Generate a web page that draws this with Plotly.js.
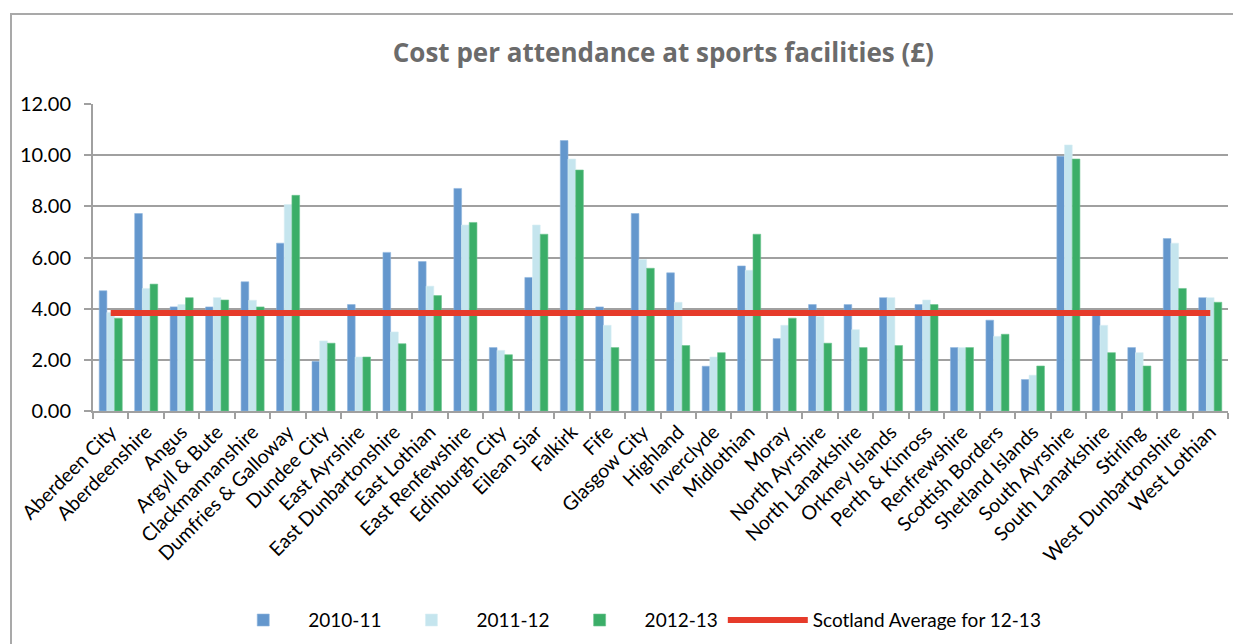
<!DOCTYPE html>
<html>
<head>
<meta charset="utf-8">
<script src="https://cdn.plot.ly/plotly-3.0.1.min.js"></script>
<style>
  html, body { margin: 0; padding: 0; background: #fff; }
  #chart { position: absolute; left: 0; top: 0; width: 1233px; height: 644px; }
  #frame { position: absolute; left: 10px; top: 13px; width: 1240px; height: 650px;
           border: 2px solid #a9a9a9; pointer-events: none; box-sizing: border-box; }
</style>
</head>
<body>
<div id="chart"></div>
<div id="frame"></div>
<script>
const categories = [
  "Aberdeen City", "Aberdeenshire", "Angus", "Argyll & Bute", "Clackmannanshire",
  "Dumfries & Galloway", "Dundee City", "East Ayrshire", "East Dunbartonshire",
  "East Lothian", "East Renfewshire", "Edinburgh City", "Eilean Siar", "Falkirk",
  "Fife", "Glasgow City", "Highland", "Inverclyde", "Midlothian", "Moray",
  "North Ayrshire", "North Lanarkshire", "Orkney Islands", "Perth & Kinross",
  "Renfrewshire", "Scottish Borders", "Shetland Islands", "South Ayrshire",
  "South Lanarkshire", "Stirling", "West Dunbartonshire", "West Lothian"
];
const values2010 = [4.70, 7.72, 4.07, 4.07, 5.05, 6.56, 1.94, 4.16, 6.20, 5.84, 8.70, 2.48, 5.22, 10.57,
  4.07, 7.72, 5.40, 1.75, 5.67, 2.83, 4.16, 4.16, 4.43, 4.16, 2.48, 3.55, 1.23, 9.96, 3.75, 2.48, 6.74, 4.43];
const values2011 = [3.85, 4.79, 4.16, 4.43, 4.33, 8.07, 2.74, 2.11, 3.09, 4.88, 7.27, 2.37, 7.27, 9.85,
  3.35, 5.92, 4.25, 2.11, 5.50, 3.35, 3.70, 3.18, 4.43, 4.34, 2.48, 2.92, 1.40, 10.40, 3.35, 2.28, 6.56, 4.43];
const values2012 = [3.63, 4.96, 4.43, 4.34, 4.07, 8.43, 2.65, 2.11, 2.63, 4.51, 7.37, 2.20, 6.91, 9.42,
  2.48, 5.58, 2.56, 2.28, 6.91, 3.63, 2.65, 2.48, 2.56, 4.16, 2.48, 3.00, 1.76, 9.85, 2.28, 1.76, 4.79, 4.25];
const scotlandAverage = 3.83;
const seriesNames = ["2010-11", "2011-12", "2012-13", "Scotland Average for 12-13"];
const yTicks = [0, 2, 4, 6, 8, 10, 12];

const font = "Lato, 'Open Sans', sans-serif";

const traces = [
  { type: "bar", name: seriesNames[0], x: categories, y: values2010,
    marker: { color: "#6497CD", line: { color: "#8fb5dd", width: 0.6 } } },
  { type: "bar", name: seriesNames[1], x: categories, y: values2011,
    marker: { color: "#C5E5EE", line: { color: "#d9eef4", width: 0.6 } } },
  { type: "bar", name: seriesNames[2], x: categories, y: values2012,
    marker: { color: "#3BAE68", line: { color: "#6cc490", width: 0.6 } } },
  { type: "scatter", mode: "lines", name: seriesNames[3], x: categories,
    y: categories.map(() => scotlandAverage),
    line: { color: "#E63B2A", width: 6 } }
];

const layout = {
  width: 1233, height: 644,
  margin: { l: 93, r: 5, t: 104, b: 233 },
  paper_bgcolor: "#ffffff", plot_bgcolor: "#ffffff",
  font: { family: font, color: "#000", size: 16 },
  title: { text: "<b>Cost per attendance at sports facilities (£)</b>",
           font: { family: "'Open Sans', sans-serif", size: 26, color: "#6b6b6b" },
           xref: "container", x: 0.538, xanchor: "center",
           yref: "container", y: 0.918, yanchor: "middle" },
  barmode: "group", bargap: 0.35, bargroupgap: 0,
  xaxis: {
    type: "category", tickangle: -45, showline: true, linecolor: "#a0a0a0", linewidth: 2,
    ticks: "outside", tickson: "boundaries", ticklen: 6, tickcolor: "#a0a0a0", tickwidth: 2,
    tickfont: { family: font, size: 19.5, color: "#000" }, showgrid: false, automargin: false
  },
  yaxis: {
    range: [0, 12], tickvals: yTicks, tickformat: ".2f",
    showline: true, linecolor: "#a0a0a0", linewidth: 2,
    ticks: "outside", ticklen: 7, tickcolor: "#a0a0a0", tickwidth: 2, ticklabelstandoff: 9,
    showgrid: true, gridcolor: "#a0a0a0", gridwidth: 2, zeroline: false,
    tickfont: { family: font, size: 20, color: "#000" }, automargin: false
  },
  legend: {
    orientation: "h", xref: "container", x: 0.177, xanchor: "left",
    yref: "container", y: 0.037, yanchor: "middle",
    font: { family: font, size: 19, color: "#000" }, itemwidth: 80,
    traceorder: "normal"
  },
  showlegend: true
};

Plotly.newPlot("chart", traces, layout, { displayModeBar: false, staticPlot: true });
</script>
</body>
</html>
